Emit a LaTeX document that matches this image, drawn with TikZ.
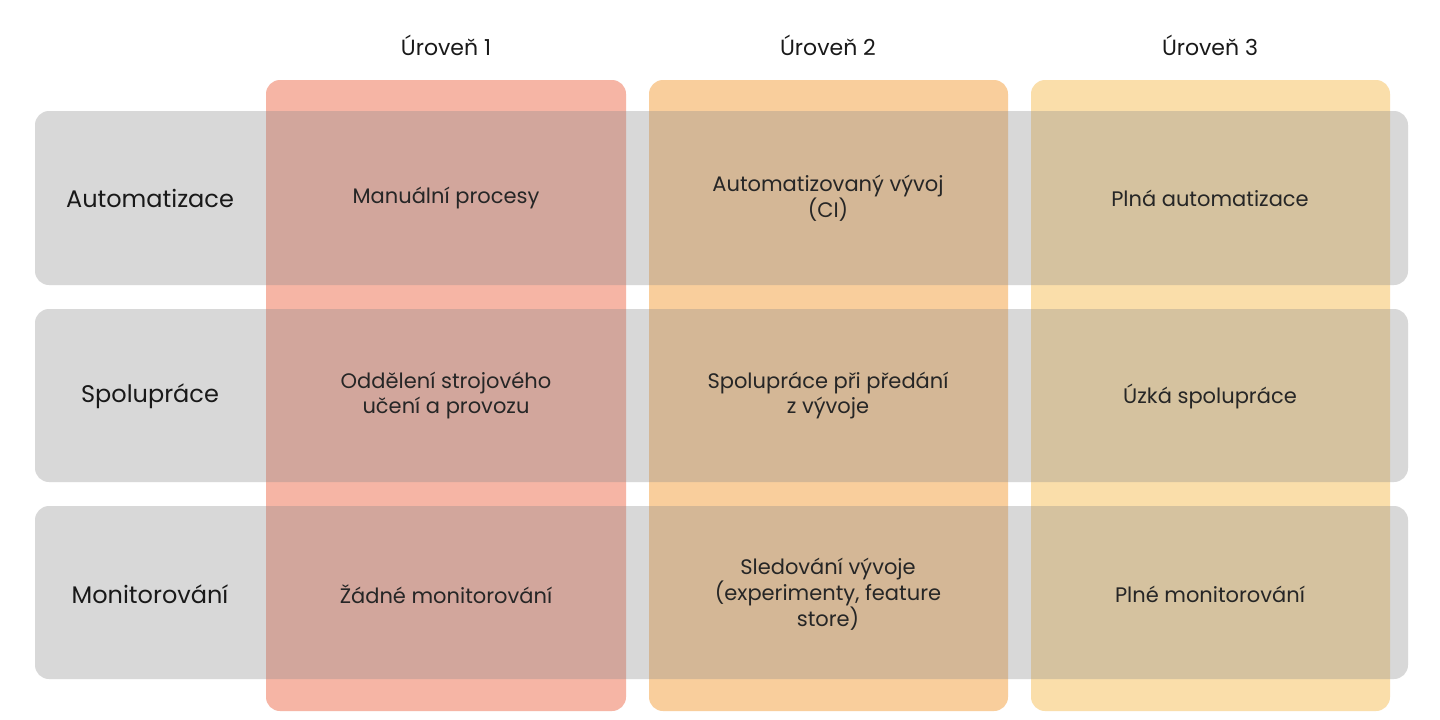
\documentclass[tikz,border=0pt]{standalone}
\usepackage{fontspec}
\setmainfont{Poppins}
\definecolor{c1}{RGB}{246,181,165}
\definecolor{c2}{RGB}{249,206,156}
\definecolor{c3}{RGB}{250,222,170}
\definecolor{rowg}{RGB}{138,138,138}
\begin{document}
\begin{tikzpicture}[x=1pt,y=-1pt,
 col/.style={rounded corners=14pt},
 row/.style={rounded corners=14pt,fill=rowg,fill opacity=0.33},
 cell/.style={align=center,font=\fontsize{21}{25}\selectfont,text=black!85},
 lab/.style={font=\fontsize{24}{28}\selectfont,text=black!90},
 head/.style={font=\fontsize{22}{26}\selectfont,text=black!90}]
\useasboundingbox (0,0) rectangle (1440,720);
\fill[white] (0,0) rectangle (1440,720);
\fill[col,c1] (266,80) rectangle (626,711);
\fill[col,c2] (649,80) rectangle (1008,711);
\fill[col,c3] (1031,80) rectangle (1390,711);
\fill[row] (35,111) rectangle (1408,285);
\fill[row] (35,309) rectangle (1408,482);
\fill[row] (35,506) rectangle (1408,679);
\node[head] (h1) at (446,45) {Úroveň 1};
\node[head] (h2) at (828,45) {Úroveň 2};
\node[head] (h3) at (1210,45) {Úroveň 3};
\node[lab] (r1) at (150,198) {Automatizace};
\node[lab] (r2) at (150,396) {Spolupráce};
\node[lab] (r3) at (150,594) {Monitorování};
\node[cell] (a1) at (446,198) {Manuální procesy};
\node[cell] (a2) at (828,198) {Automatizovaný vývoj\\(CI)};
\node[cell] (a3) at (1210,198) {Plná automatizace};
\node[cell] (b1) at (446,396) {Oddělení strojového\\učení a provozu};
\node[cell] (b2) at (828,396) {Spolupráce při předání\\z vývoje};
\node[cell] (b3) at (1210,396) {Úzká spolupráce};
\node[cell] (m1) at (446,594) {Žádné monitorování};
\node[cell] (m2) at (828,594) {Sledování vývoje\\(experimenty, feature\\store)};
\node[cell] (m3) at (1210,594) {Plné monitorování};
\end{tikzpicture}
\end{document}
